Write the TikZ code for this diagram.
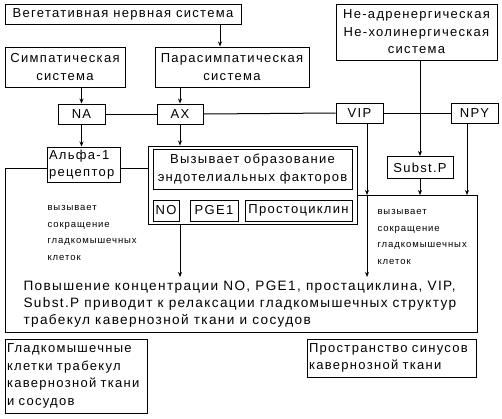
\documentclass[tikz,border=0pt]{standalone}
\usepackage{fontspec}
\setmainfont{Liberation Sans}[LetterSpace=10]
\usetikzlibrary{arrows.meta}
\begin{document}
\begin{tikzpicture}[x=1pt,y=-1pt,line width=1pt,
    >={Stealth[length=5pt,width=4pt]},
    box/.style={draw,inner sep=0pt,align=center,font=\fontsize{13}{17.5}\selectfont},
    lbox/.style={box,align=left,inner xsep=2pt},
    note/.style={inner sep=0pt,align=left,font=\fontsize{9.5}{16.7}\selectfont}]
  \useasboundingbox (0,0) rectangle (502,418);
  \draw
    (123,14) node[box,minimum width=236pt,minimum height=20pt] (veg) {Вегетативная нервная система}
    (65,67) node[box,minimum width=120pt,minimum height=40pt] (symp) {Симпатическая\\система}
    (232,67) node[box,minimum width=154pt,minimum height=40pt] (para) {Парасимпатическая\\система}
    (416.5,32) node[box,minimum width=161pt,minimum height=56pt] (nanc) {Не-адренергическая\\Не-холинергическая\\система}
    (81.5,114) node[box,minimum width=47pt,minimum height=20pt] (na) {NA}
    (180,114) node[box,minimum width=46pt,minimum height=20pt] (ax) {AX}
    (359.5,113) node[box,minimum width=47pt,minimum height=20pt] (vip) {VIP}
    (474.5,113) node[box,minimum width=47pt,minimum height=20pt] (npy) {NPY}
    (83.5,164.5) node[lbox,minimum width=73pt,minimum height=35pt,text width=69pt] (alpha) {Альфа-1\\рецептор}
    (252.5,185) node[box,minimum width=209pt,minimum height=78pt] (endo) {}
    (252.5,169) node[box,minimum width=199pt,minimum height=40pt] (endotxt) {Вызывает образование\\эндотелиальных факторов}
    (166,210.5) node[box,minimum width=26pt,minimum height=21pt] (no) {NO}
    (214,210.5) node[box,minimum width=48pt,minimum height=21pt] (pge) {PGE1}
    (298.5,210.5) node[box,minimum width=107pt,minimum height=21pt] (prost) {Простоциклин}
    (420,167.5) node[box,minimum width=66pt,minimum height=22pt] (subst) {Subst.P}
    (47,233) node[note,anchor=west] (lnote) {вызывает\\сокращение\\гладкомышечных\\клеток}
    (377,237) node[note,anchor=west] (rnote) {вызывает\\сокращение\\гладкомышечных\\клеток}
    (23,304) node[box,draw=none,align=left,anchor=west,font=\fontsize{13.6}{17}\selectfont] (res) {Повышение концентрации NO, PGE1, простациклина, VIP,\\Subst.P приводит к релаксации гладкомышечных структур\\трабекул кавернозной ткани и сосудов}
    (76,376) node[lbox,minimum width=142pt,minimum height=74pt,text width=138pt] (smooth) {Гладкомышечные\\клетки трабекул\\кавернозной ткани\\и сосудов}
    (391.5,358) node[lbox,minimum width=169pt,minimum height=38pt,text width=165pt] (sinus) {Пространство синусов\\кавернозной ткани};
  \coordinate (vp) at (220,0);
  \coordinate (vipx) at (367,0);
  \coordinate (npyx) at (467,0);
  \coordinate (tl) at (5,168);
  \coordinate (tr) at (477,195);
  \coordinate (br) at (477,332);
  \coordinate (bl) at (5,332);
  \coordinate (rest) at (0,277);
  \begin{scope}[->]
    \draw (vp |- veg.south) to (vp |- para.north);
    \draw (na |- symp.south) to (na.north);
    \draw (ax |- para.south) to (ax.north);
    \draw (na.south) to (na |- alpha.north);
    \draw (ax.south) to (ax |- endo.north);
    \draw (ax |- endo.south) to (ax |- rest);
    \draw (subst |- nanc.south) to (subst.north);
    \draw (subst.south) to (subst |- tr);
    \draw (vipx |- vip.south) to (vipx |- tr);
    \draw (vipx |- tr) to (vipx |- rest);
    \draw (npyx |- npy.south) to (npyx |- tr);
  \end{scope}
  \begin{scope}[-]
    \draw (na.east) to (ax.west);
    \draw (ax.east) to (vip.west);
    \draw (vip.east) to (npy.west);
    \draw (alpha.west |- tl) -- (tl) -- (bl) -- (br) -- (tr) -- (endo.east |- tr);
    \draw (alpha.east |- tl) to (endo.west |- tl);
  \end{scope}
\end{tikzpicture}
\end{document}
